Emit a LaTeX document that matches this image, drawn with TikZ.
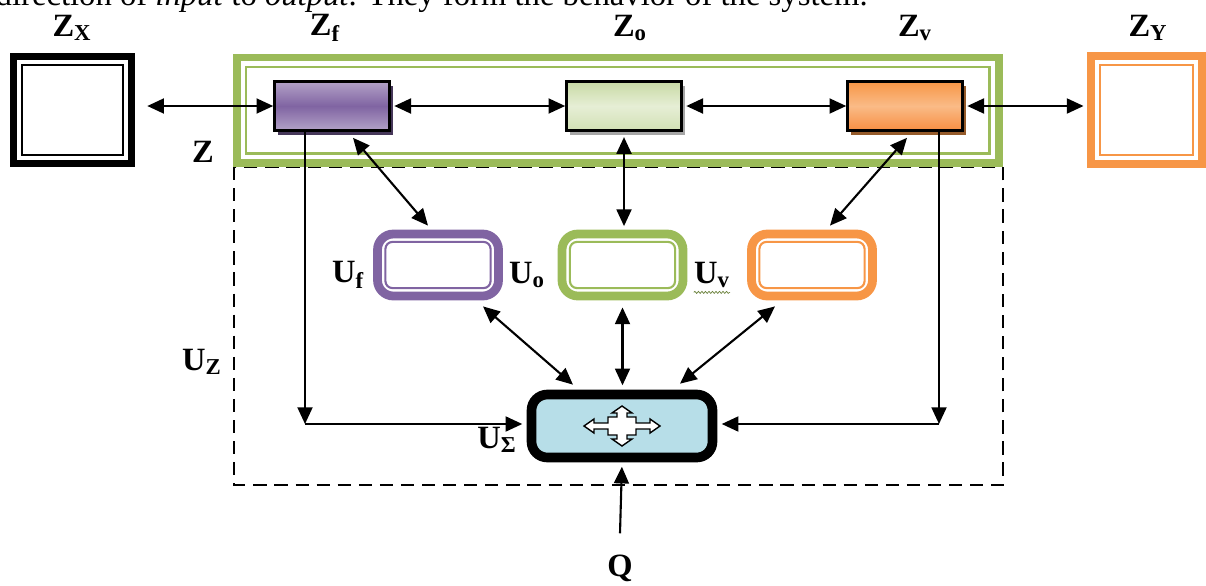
\documentclass[tikz,border=0pt]{standalone}
\usepackage{fontspec}
\setmainfont{Liberation Serif}
\usetikzlibrary{arrows.meta,calc,shadows,decorations.pathmorphing}

\definecolor{zgreen}{HTML}{9BBB59}
\definecolor{zpurple}{HTML}{8064A2}
\definecolor{zorange}{HTML}{F79646}
\definecolor{zblue}{HTML}{B7DEE8}

\tikzset{
  lbl/.style={font=\fontsize{18.5}{21}\selectfont\bfseries, inner sep=0pt},
  arr/.style={line width=1.2pt, -{Triangle[length=9.5pt,width=8.5pt]}},
  biarr/.style={line width=1.2pt, {Triangle[length=9.5pt,width=8.5pt]}-{Triangle[length=9.5pt,width=8.5pt]}},
  outerbox/.style={draw=#1, line width=4.5pt, minimum width=2.3cm, minimum height=2.14cm},
  innerbox/.style={draw=#1, line width=1.2pt},
  zbar/.style={draw, line width=1.5pt, minimum width=2.3cm, minimum height=0.98cm,
    drop shadow={shadow xshift=2pt, shadow yshift=-2.5pt, opacity=1, fill=#1}},
  ubox/.style={draw=#1, line width=5pt, rounded corners=9pt, minimum width=2.42cm, minimum height=1.24cm}
}

\begin{document}
\begin{tikzpicture}[x=0.02cm, y=-0.02cm]

  \useasboundingbox (0,0) rectangle (1206,585);

  % cut-off line of the text above
  \node[anchor=base east, inner sep=0pt, font=\fontsize{18.6}{22}\selectfont] (caption) at (868,5)
    {direction of \textit{input} to \textit{output}. They form the behavior of the system.};

  % frames
  \draw[black, line width=1.2pt, dash pattern=on 7.5pt off 4.5pt] (234,167) rectangle (1003,485);
  \node[outerbox=zgreen, minimum width=15.25cm, minimum height=2.11cm] (zbox) at (617.75,110.25) {};
  \node[outerbox=black, line width=4pt, minimum width=2.36cm] (zx) at (72.5,110) {};
  \node[outerbox=zorange, minimum width=2.22cm, minimum height=2.16cm] (zy) at (1146.5,110) {};

  % inner lines of the frames
  \node[innerbox=zgreen, minimum width=15.25cm-10.8pt, minimum height=2.11cm-10.8pt] (zboxin) at (zbox) {};
  \node[innerbox=black, minimum width=2.36cm-9.6pt, minimum height=2.14cm-9.6pt] (zxin) at (zx) {};
  \node[innerbox=zorange, minimum width=2.22cm-10pt, minimum height=2.16cm-10pt] (zyin) at (zy) {};

  % Z blocks
  \node[zbar=zpurple!55!black, top color=zpurple!60, bottom color=zpurple!60, middle color=zpurple] (zf) at (332,106) {};
  \node[zbar=black!35, top color=zgreen!55, bottom color=zgreen!45, middle color=zgreen!25] (zo) at (624,106) {};
  \node[zbar=zorange!60!black, top color=zorange, bottom color=zorange!95!red, middle color=zorange!65] (zv) at (905,106) {};

  % U blocks
  \node[ubox=zpurple] (uf) at (438,265) {};
  \node[ubox=zgreen] (uo) at (622.5,265) {};
  \node[ubox=zorange] (uv) at (812,265) {};
  \foreach \nm/\col in {uf/zpurple, uo/zgreen, uv/zorange}
    \node[innerbox=\col, rounded corners=4pt, minimum width=2.42cm-9pt, minimum height=1.24cm-9pt] (\nm in) at (\nm) {};
  \node[draw, line width=5.5pt, rounded corners=9pt, fill=zblue, minimum width=3.62cm, minimum height=1.26cm] (us) at (622,426) {};

  % symbol in U_Sigma
  \begin{scope}[shift={(us.center)}]
    \draw[fill=white, line width=0.8pt] (-38,0) -- (-28,-7) -- (-28,-3) -- (-14,-3) -- (-14,-9) -- (-5,-9) -- (-5,-13)
      -- (-10,-13) -- (0,-20) -- (10,-13) -- (5,-13) -- (5,-9) -- (14,-9) -- (14,-3) -- (28,-3) -- (28,-7)
      -- (38,0) -- (28,7) -- (28,3) -- (14,3) -- (14,9) -- (5,9) -- (5,13) -- (10,13) -- (0,20)
      -- (-10,13) -- (-5,13) -- (-5,9) -- (-14,9) -- (-14,3) -- (-28,3) -- (-28,7) -- cycle;
  \end{scope}

  % labels
  \node[lbl] (lzx) at (72,28) {Z\textsubscript{X}};
  \node[lbl] (lzf) at (325,28) {Z\textsubscript{f}};
  \node[lbl] (lzo) at (630,28) {Z\textsubscript{o}};
  \node[lbl] (lzv) at (915,28) {Z\textsubscript{v}};
  \node[lbl] (lzy) at (1148,28) {Z\textsubscript{Y}};
  \node[lbl] (lz) at (203,152) {Z};
  \node[lbl] (luz) at (202,362) {U\textsubscript{Z}};
  \node[lbl] (luf) at (348,275) {U\textsubscript{f}};
  \node[lbl] (luo) at (527,275) {U\textsubscript{o}};
  \node[lbl] (luv) at (712,275) {U\textsubscript{v}};
  \node[lbl] (lus) at (497,440) {U\textsubscript{Σ}};
  \node[lbl] (q) at (620,568) {Q};

  \draw[zgreen!70!black, line width=0.4pt, decorate, decoration={snake, amplitude=0.6pt, segment length=2pt}]
    ($(luv.south west)+(0,4)$) -- ($(luv.south east)+(0,4)$);

  % connectors
  \coordinate (lc) at (305,424);
  \coordinate (rc) at (939,424);

  \draw[biarr, shorten <=7pt] (zx.east |- zf.west) -- (zf.west);
  \draw[biarr, shorten <=2pt] (zf.east) -- (zo.west);
  \draw[biarr, shorten <=2pt] (zo.east) -- (zv.west);
  \draw[biarr, shorten <=2pt, shorten >=2pt] (zv.east) -- (zv.east -| zy.west);

  \draw[arr] (zf.south -| lc) -- (lc);
  \draw[arr, shorten >=2.5pt] (lc) -- (lc -| us.west);
  \draw[arr] (zv.south -| rc) -- (rc);
  \draw[arr, shorten >=2.5pt] (rc) -- (rc -| us.east);

  \draw[biarr] ($(zf.south)+(21,6)$) -- ($(uf.north)+(-10,-4)$);
  \draw[biarr, shorten <=3pt, shorten >=2pt] (zo.south) -- (zo.south |- uo.north);
  \draw[biarr] ($(zv.south)+(2,6)$) -- ($(uv.north)+(18,-4)$);

  \draw[biarr] ($(uf.south)+(45,6)$) -- ($(us.north)+(-49,-5)$);
  \draw[biarr, shorten <=4pt, shorten >=2.5pt] (uo.south) -- (uo.south |- us.north);
  \draw[biarr] ($(uv.south)+(-37,6)$) -- ($(us.north)+(58,-6)$);

  \draw[arr, shorten >=2.5pt] ([yshift=0.42cm]q.north) -- (us.south);

\end{tikzpicture}
\end{document}
